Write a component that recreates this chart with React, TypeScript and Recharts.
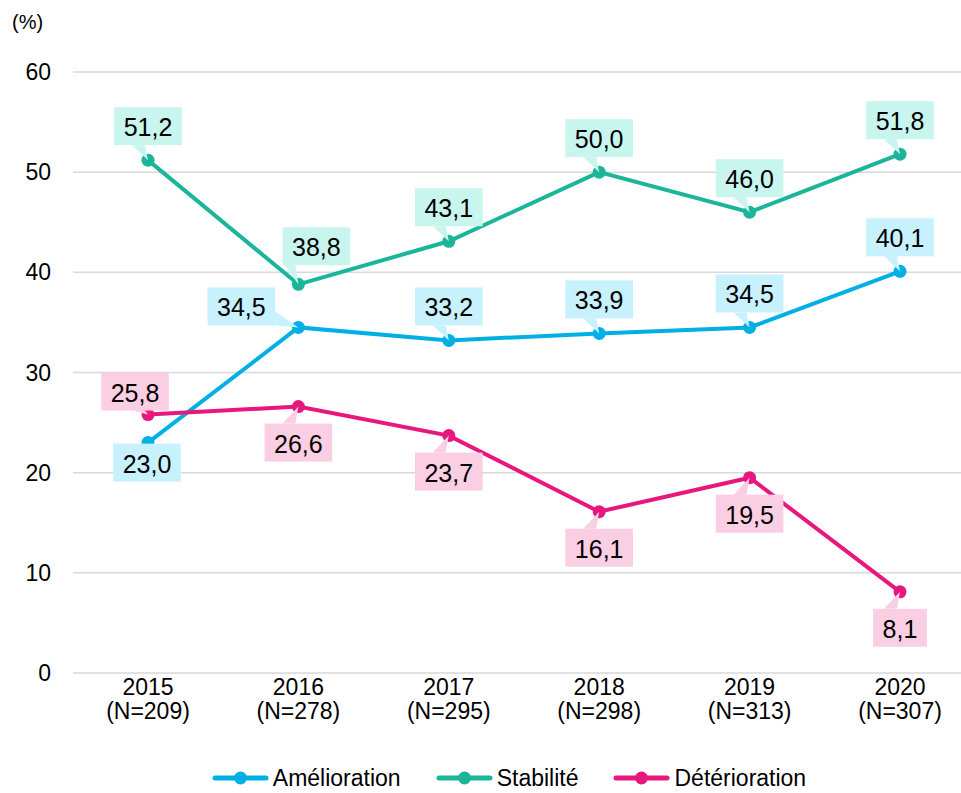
import React from 'react';
import { LineChart, Line, XAxis, YAxis, CartesianGrid, Legend } from 'recharts';

const years = ['2015', '2016', '2017', '2018', '2019', '2020'];
const sampleSizes = ['(N=209)', '(N=278)', '(N=295)', '(N=298)', '(N=313)', '(N=307)'];
const amelioration = [23.0, 34.5, 33.2, 33.9, 34.5, 40.1];
const stabilite = [51.2, 38.8, 43.1, 50.0, 46.0, 51.8];
const deterioration = [25.8, 26.6, 23.7, 16.1, 19.5, 8.1];
const yTicks = [0, 10, 20, 30, 40, 50, 60];
const seriesNames = ['Amélioration', 'Stabilité', 'Détérioration'];

// label placement per point (style only)
const placeAmelioration = ['belowNear', 'left', 'above', 'above', 'above', 'above'];
const placeStabilite = ['above', 'aboveRight', 'above', 'above', 'above', 'above'];
const placeDeterioration = ['aboveLeft', 'below', 'below', 'below', 'below', 'below'];

const FONT = '"Liberation Sans", Arial, Helvetica, sans-serif';
const COLORS = { am: '#00B0E4', st: '#1BB59A', de: '#E8177D' };
const BG = { am: '#C7F1FD', st: '#C9F5EF', de: '#FACFE3' };

const data = years.map((y, i) => ({
  year: y,
  n: sampleSizes[i],
  amelioration: amelioration[i],
  stabilite: stabilite[i],
  deterioration: deterioration[i],
}));

const OFFSETS: Record<string, [number, number]> = {
  above: [0, -34],
  below: [0, 36],
  belowNear: [-1, 20],
  left: [-57, -21],
  aboveLeft: [-13, -23],
  aboveRight: [18, -38],
};

const LABEL_FS = 25;
const BOX_H = 38;
const TICK_FS = 23;

const textWidth = (s: string) => {
  let w = 0;
  for (const c of s) w += c === ',' ? 0.278 : 0.556;
  return w * LABEL_FS;
};

const makeLabel = (placements: string[], bg: string) => (props: any) => {
  const { x, y, value, index } = props;
  if (x == null || y == null || value == null) return null;
  const txt = Number(value).toFixed(1).replace('.', ',');
  const place = placements[index] || 'above';
  const [dx, dy] = OFFSETS[place];
  const w = textWidth(txt) + 19;
  const cx = x + dx;
  const cy = y + dy;
  const left = cx - w / 2;
  const top = cy - BOX_H / 2;
  const right = left + w;
  const bottom = top + BOX_H;
  let wedge = '';
  const clampX = (v: number) => Math.max(left + 2, Math.min(right - 2, v));
  if (place === 'left') {
    wedge = `${right},${bottom - 14} ${right},${bottom} ${x},${y}`;
  } else if (place.startsWith('below')) {
    if (place === 'belowNear') wedge = '';
    else wedge = `${clampX(x - 16)},${top} ${clampX(x - 3)},${top} ${x},${y}`;
  } else {
    wedge = `${clampX(x - 16)},${bottom} ${clampX(x - 3)},${bottom} ${x},${y}`;
  }
  return (
    <g key={`lbl-${index}`}>
      {wedge && <polygon points={wedge} fill={bg} />}
      <rect x={left} y={top} width={w} height={BOX_H} fill={bg} />
      <text
        x={cx}
        y={cy + 1}
        textAnchor="middle"
        dominantBaseline="central"
        fontFamily={FONT}
        fontSize={LABEL_FS}
        fill="#000"
      >
        {txt}
      </text>
    </g>
  );
};

const XTick = (props: any) => {
  const { x, y, payload, index } = props;
  return (
    <g>
      <text x={x} y={y + 22} textAnchor="middle" fontFamily={FONT} fontSize={TICK_FS} fill="#000">
        {payload.value}
      </text>
      <text x={x} y={y + 46} textAnchor="middle" fontFamily={FONT} fontSize={TICK_FS} fill="#000">
        {sampleSizes[index]}
      </text>
    </g>
  );
};

const legendColors = [COLORS.am, COLORS.st, COLORS.de];

const renderLegend = () => (
  <div
    style={{
      display: 'flex',
      justifyContent: 'center',
      paddingTop: 13,
      paddingLeft: 57,
      fontFamily: FONT,
      fontSize: 23,
      color: '#000',
      lineHeight: '24px',
    }}
  >
    {seriesNames.map((name, i) => (
      <div key={name} style={{ display: 'flex', alignItems: 'center', marginRight: i < 2 ? 35 : 0 }}>
        <svg width={57} height={16} style={{ display: 'block' }}>
          <line x1={3} y1={8} x2={54} y2={8} stroke={legendColors[i]} strokeWidth={5} strokeLinecap="round" />
          <circle cx={28.5} cy={8} r={6.5} fill={legendColors[i]} />
        </svg>
        <span style={{ marginLeft: 4 }}>{name}</span>
      </div>
    ))}
  </div>
);

export default function App() {
  return (
    <div style={{ position: 'absolute', left: 0, top: 0, width: 961, height: 793, background: '#fff' }}>
      <div
        style={{
          position: 'absolute',
          left: 12,
          top: 11,
          fontFamily: FONT,
          fontSize: 20,
          lineHeight: '22px',
          color: '#000',
          zIndex: 2,
        }}
      >
        (%)
      </div>
      <LineChart
        width={961}
        height={793}
        data={data}
        margin={{ top: 72, right: 0, bottom: 0, left: 0 }}
      >
        <CartesianGrid vertical={false} stroke="#D9D9D9" strokeWidth={1.5} />
        <XAxis
          dataKey="year"
          axisLine={false}
          tickLine={false}
          tickSize={0}
          tickMargin={0}
          height={80}
          padding={{ left: 75, right: 61 }}
          tick={<XTick />}
          interval={0}
        />
        <YAxis
          width={73}
          domain={[0, 60]}
          ticks={yTicks}
          axisLine={false}
          tickLine={false}
          tickSize={0}
          tickMargin={22}
          tick={{ fontFamily: FONT, fontSize: TICK_FS, fill: '#000' }}
          interval={0}
        />
        <Legend verticalAlign="bottom" height={40} content={renderLegend} />
        <Line
          name={seriesNames[0]}
          dataKey="amelioration"
          stroke={COLORS.am}
          strokeWidth={4}
          dot={{ r: 6.5, fill: COLORS.am, stroke: COLORS.am, strokeWidth: 0 }}
          isAnimationActive={false}
          label={makeLabel(placeAmelioration, BG.am)}
        />
        <Line
          name={seriesNames[1]}
          dataKey="stabilite"
          stroke={COLORS.st}
          strokeWidth={4}
          dot={{ r: 6.5, fill: COLORS.st, stroke: COLORS.st, strokeWidth: 0 }}
          isAnimationActive={false}
          label={makeLabel(placeStabilite, BG.st)}
        />
        <Line
          name={seriesNames[2]}
          dataKey="deterioration"
          stroke={COLORS.de}
          strokeWidth={4}
          dot={{ r: 6.5, fill: COLORS.de, stroke: COLORS.de, strokeWidth: 0 }}
          isAnimationActive={false}
          label={makeLabel(placeDeterioration, BG.de)}
        />
      </LineChart>
    </div>
  );
}
